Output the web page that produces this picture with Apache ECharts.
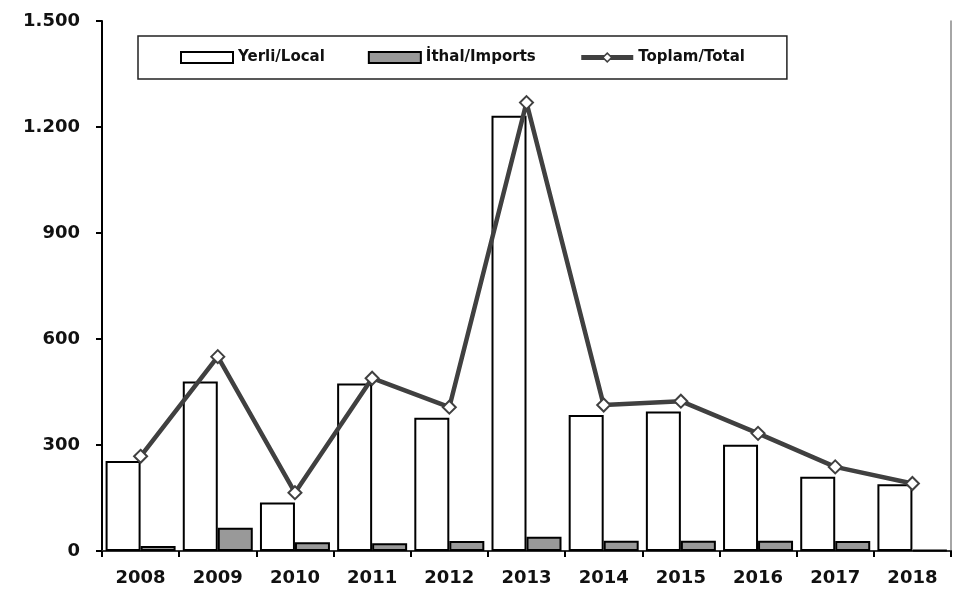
<!DOCTYPE html>
<html>
<head>
<meta charset="utf-8">
<script src="https://cdn.jsdelivr.net/npm/echarts@6/dist/echarts.min.js"></script>
<style>html,body{margin:0;padding:0;background:#fff;}#c{width:959px;height:599px;}</style>
</head>
<body>
<div id="c"></div>
<script>
var years = ['2008','2009','2010','2011','2012','2013','2014','2015','2016','2017','2018'];
var local = [255, 480, 137, 474, 377, 1232, 385, 395, 301, 210, 189];
var imports = [14, 66, 25, 22, 28, 40, 29, 29, 29, 28, 3];
var total = [268, 550, 165, 489, 407, 1269, 413, 424, 333, 238, 191];
var yTicks = [0, 300, 600, 900, 1200, 1500];

var FONT = '"DejaVu Sans", Verdana, sans-serif';
function fmt(v){ if (v >= 1000) { return Math.floor(v/1000) + '.' + String(v % 1000).padStart(3,'0'); } return String(v); }

var chart = echarts.init(document.getElementById('c'));
chart.setOption({
  animation: false,
  backgroundColor: '#fff',
  grid: { left: 102, top: 21, right: 8, bottom: 48, containLabel: false },
  legend: {
    left: 138, top: 36,
    padding: [14, 42, 14, 42],
    itemGap: 43, itemWidth: 52, itemHeight: 11,
    borderColor: '#222', borderWidth: 1.5,
    textStyle: { fontFamily: FONT, fontWeight: 'bold', fontSize: 15, color: '#111' },
    data: [
      { name: 'Yerli/Local', icon: 'rect' },
      { name: 'İthal/Imports', icon: 'rect' },
      { name: 'Toplam/Total', lineStyle: { width: 5, color: '#404040' }, itemStyle: { color: '#fff', borderColor: '#404040', borderWidth: 1.5 } }
    ]
  },
  xAxis: [{
    type: 'category', data: years, position: 'bottom',
    axisLine: { lineStyle: { color: '#000', width: 2 } },
    axisTick: { show: true, alignWithLabel: false, length: 6, lineStyle: { color: '#000', width: 2 } },
    axisLabel: { fontFamily: FONT, fontWeight: 'bold', fontSize: 18, color: '#111', margin: 18, interval: 0 }
  }, {
    type: 'category', data: years, position: 'top',
    axisLine: { lineStyle: { color: '#444', width: 1.5 } },
    axisTick: { show: false }, axisLabel: { show: false }
  }],
  yAxis: [{
    type: 'value', min: yTicks[0], max: yTicks[yTicks.length-1], interval: 300,
    axisLine: { show: true, lineStyle: { color: '#000', width: 2 } },
    axisTick: { show: true, length: 6, lineStyle: { color: '#000', width: 2 } },
    splitLine: { show: false },
    axisLabel: { fontFamily: FONT, fontWeight: 'bold', fontSize: 18, color: '#111', margin: 22, formatter: fmt }
  }, {
    type: 'value', min: yTicks[0], max: yTicks[yTicks.length-1], interval: 300, position: 'right',
    axisLine: { show: true, lineStyle: { color: '#888', width: 1.5 } },
    axisTick: { show: false }, axisLabel: { show: false }, splitLine: { show: false }
  }],
  series: [{
    name: 'Yerli/Local', type: 'bar', data: local, barWidth: 35, barGap: '0%',
    itemStyle: { color: '#fff', borderColor: '#000', borderWidth: 2 }
  }, {
    name: 'İthal/Imports', type: 'bar', data: imports, barWidth: 35, barGap: '0%',
    itemStyle: { color: '#999', borderColor: '#000', borderWidth: 2 }
  }, {
    name: 'Toplam/Total', type: 'line', data: total,
    symbol: 'diamond', symbolSize: 13, showAllSymbol: true,
    lineStyle: { color: '#404040', width: 4.5 },
    itemStyle: { color: '#fff', borderColor: '#404040', borderWidth: 2 },
    z: 5
  }]
});
</script>
</body>
</html>
